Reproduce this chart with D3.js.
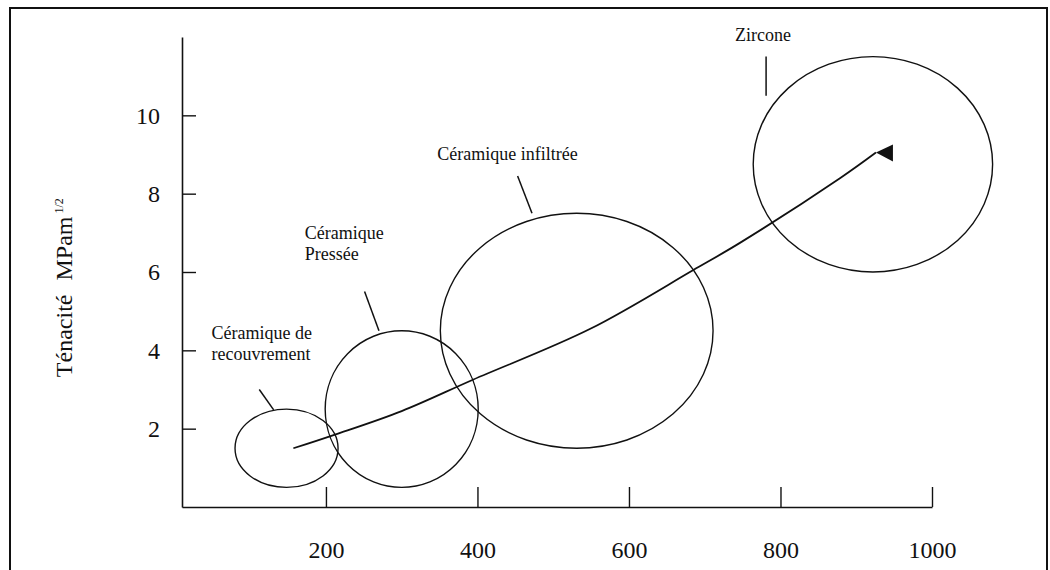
<!DOCTYPE html>
<html>
<head>
<meta charset="utf-8">
<script src="https://cdn.jsdelivr.net/npm/d3@7"></script>
<style>
  html, body { margin: 0; padding: 0; background: #fff; }
  svg { display: block; }
  svg text { font-family: "Liberation Serif", "Times New Roman", Times, serif !important; fill: #111; }
</style>
</head>
<body>
<svg id="chart" width="1050" height="570"></svg>
<script>
// ---- data ----
const xTicks = [200, 400, 600, 800, 1000];
const yTicks = [2, 4, 6, 8, 10];
const xDomain = [10, 1000];
const yDomain = [0, 12];

// ellipses (data units): centre x, centre y, x radius, y radius
const materials = ["Céramique de recouvrement", "Céramique Pressée", "Céramique infiltrée", "Zircone"];
const ellCx = [148, 300, 531, 922];
const ellCy = [1.5, 2.5, 4.5, 8.75];
const ellRx = [68, 101, 180, 158];
const ellRy = [1.0, 2.0, 3.0, 2.75];

// labels: lines of text, anchor point (data units), leader line endpoints (data units)
const labelLines = [["Céramique de", "recouvrement"], ["Céramique", "Pressée"], ["Céramique infiltrée"], ["Zircone"]];
const labelX = [49, 172, 347, 740];
const labelY = [4.28, 6.84, 8.85, 11.9];
const leaderFrom = [[112, 3.0], [251, 5.5], [453, 8.45], [781, 11.5]];
const leaderTo = [[131, 2.48], [270, 4.5], [472, 7.5], [781, 10.5]];

// trend curve (data units)
const trendX = [157, 212, 300, 394, 549, 685, 747, 879, 926];
const trendY = [1.5, 1.85, 2.45, 3.25, 4.55, 6.05, 6.75, 8.4, 9.05];

const yTitle = "Ténacité";
const yUnit = "MPam";
const yUnitExp = "1/2";

// ---- drawing ----
const FONT = "'Liberation Serif', 'Times New Roman', Times, serif";
const svg = d3.select("#chart");

// frame
svg.append("rect")
  .attr("x", 10).attr("y", 8).attr("width", 1037).attr("height", 580)
  .attr("fill", "none").attr("stroke", "#111").attr("stroke-width", 2);

const x = d3.scaleLinear().domain(xDomain).range([182, 932]);
const y = d3.scaleLinear().domain(yDomain).range([507, 37]);

const xAxis = d3.axisBottom(x).tickValues(xTicks).tickFormat(d3.format("d"))
  .tickSizeInner(-20).tickSizeOuter(0).tickPadding(34);
const yAxis = d3.axisLeft(y).tickValues(yTicks).tickFormat(d3.format("d"))
  .tickSizeInner(-14).tickSizeOuter(0).tickPadding(22);

const gx = svg.append("g").attr("transform", `translate(0,${y(0)})`).call(xAxis);
const gy = svg.append("g").attr("transform", `translate(${x(xDomain[0])},0)`).call(yAxis);

[gx, gy].forEach(g => {
  g.attr("font-family", FONT);
  g.select(".domain").attr("stroke", "#111").attr("stroke-width", 1.6);
  g.selectAll(".tick line").attr("stroke", "#111").attr("stroke-width", 1.4);
  g.selectAll(".tick text")
    .attr("font-family", FONT)
    .attr("font-size", 24).attr("fill", "#111");
});

// y title
const yt = svg.append("text")
  .attr("transform", `translate(72,${y(5.6)}) rotate(-90)`)
  .attr("text-anchor", "middle")
  .attr("font-family", FONT)
  .attr("font-size", 24);
yt.append("tspan").text(yTitle);
yt.append("tspan").attr("dx", 14).text(yUnit);
yt.append("tspan").attr("dy", -9).attr("dx", 3).attr("font-size", 12).text(yUnitExp);

// ellipses
const ellData = materials.map((m, i) => ({ m, cx: ellCx[i], cy: ellCy[i], rx: ellRx[i], ry: ellRy[i] }));
svg.append("g").selectAll("ellipse").data(ellData).join("ellipse")
  .attr("cx", d => x(d.cx))
  .attr("cy", d => y(d.cy))
  .attr("rx", d => x(d.cx + d.rx) - x(d.cx))
  .attr("ry", d => y(d.cy - d.ry) - y(d.cy))
  .attr("fill", "none").attr("stroke", "#111").attr("stroke-width", 1.4);

// leader lines
svg.append("g").selectAll("line").data(materials.map((m, i) => i)).join("line")
  .attr("x1", i => x(leaderFrom[i][0])).attr("y1", i => y(leaderFrom[i][1]))
  .attr("x2", i => x(leaderTo[i][0])).attr("y2", i => y(leaderTo[i][1]))
  .attr("stroke", "#111").attr("stroke-width", 1.5);

// labels
const lbl = svg.append("g").selectAll("text").data(materials.map((m, i) => i)).join("text")
  .attr("x", i => x(labelX[i])).attr("y", i => y(labelY[i]))
  .attr("font-family", FONT)
  .attr("font-size", 18);
lbl.each(function (i) {
  const t = d3.select(this);
  labelLines[i].forEach((line, k) => {
    t.append("tspan").attr("x", x(labelX[i])).attr("dy", k === 0 ? 0 : 21).text(line);
  });
});

// trend curve
const pts = trendX.map((v, i) => [x(v), y(trendY[i])]);
svg.append("path")
  .attr("d", d3.line().curve(d3.curveCatmullRom)(pts))
  .attr("fill", "none").attr("stroke", "#111").attr("stroke-width", 1.8);

// arrow head (filled triangle at end of curve)
const end = pts[pts.length - 1];
svg.append("path")
  .attr("d", `M${end[0]},${end[1]} L${end[0] + 17},${end[1] - 8} L${end[0] + 17},${end[1] + 9} Z`)
  .attr("fill", "#111");
</script>
</body>
</html>
